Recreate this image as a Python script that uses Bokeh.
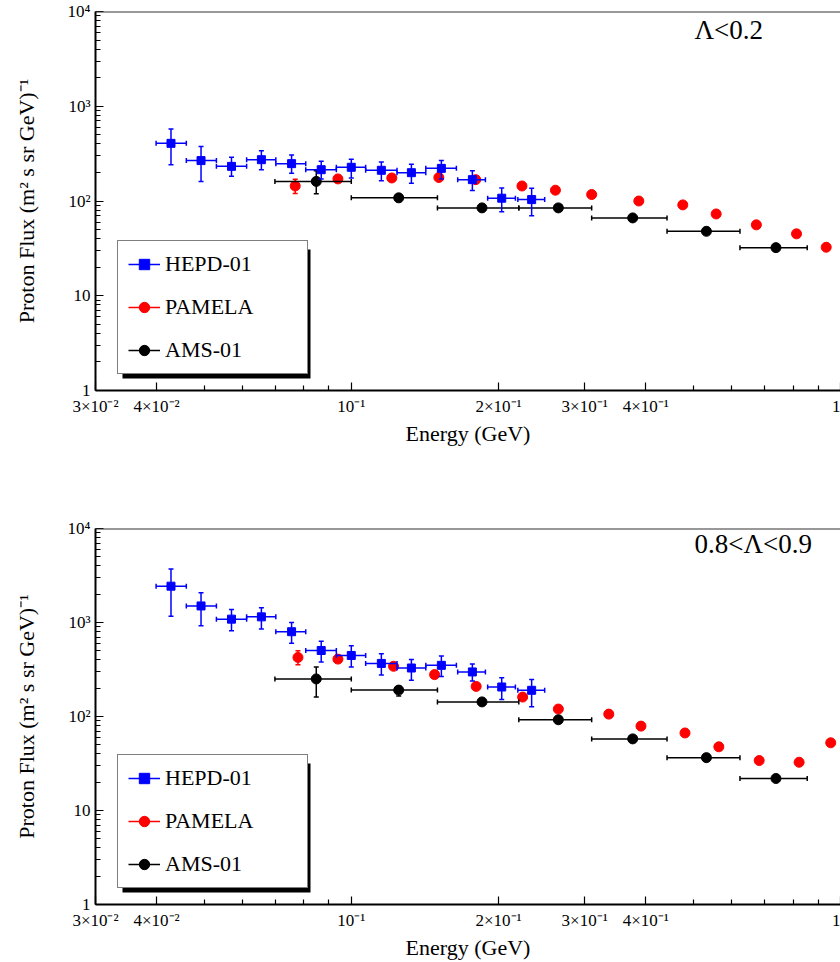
import math
from bokeh.plotting import figure
from bokeh.models import (FixedTicker, Legend, LegendItem, BoxAnnotation, Label,
                          Span, ColumnDataSource)
from bokeh.layouts import column
from bokeh.embed import file_html
from bokeh.resources import INLINE

FONT = "Liberation Serif"

# ---------------- axes ----------------
X_RANGE = (0.03, 1.0)
Y_RANGE = (1.0, 1.0e4)
X_TICKS = [0.03, 0.04, 0.1, 0.2, 0.3, 0.4, 1.0]
X_TICK_LABELS = ["3×10⁻²", "4×10⁻²", "10⁻¹", "2×10⁻¹", "3×10⁻¹", "4×10⁻¹", "1"]
X_MINOR = [0.05, 0.06, 0.07, 0.08, 0.09, 0.5, 0.6, 0.7, 0.8, 0.9]
Y_TICKS = [1, 10, 100, 1000, 10000]
Y_TICK_LABELS = ["1", "10", "10²", "10³", "10⁴"]
Y_MINOR = [m * 10 ** e for e in range(4) for m in range(2, 10)]

X_LABEL = "Energy (GeV)"
Y_LABEL = "Proton Flux (m² s sr GeV)⁻¹"
SERIES = ["HEPD-01", "PAMELA", "AMS-01"]
PANEL_TAGS = ["Λ<0.2", "0.8<Λ<0.9"]

# ---------------- HEPD-01 (energy bins shared) ----------------
hepd_e = [0.0428, 0.0493, 0.0569, 0.0655, 0.0755, 0.0868, 0.100, 0.1152, 0.1327,
          0.1528, 0.1768, 0.203, 0.2337]
hepd_e_lo = [0.0399, 0.046, 0.053, 0.0611, 0.0701, 0.0807, 0.0932, 0.107, 0.124,
             0.142, 0.165, 0.190, 0.219]
hepd_e_hi = [0.046, 0.053, 0.0611, 0.0701, 0.0807, 0.0932, 0.107, 0.124, 0.142,
             0.164, 0.188, 0.2165, 0.2485]
hepd_top_f = [406, 267, 232, 273, 248, 214, 227, 211, 199, 221, 168, 107, 103.5]
hepd_top_hi = [575, 375, 289, 340, 306, 262, 275, 258, 244, 267, 209, 137, 136]
hepd_top_lo = [242, 161, 182, 214, 196, 171, 175, 164, 154, 171, 129, 77, 70]
hepd_bot_f = [2434, 1500, 1086, 1148, 798, 504, 446, 367, 328, 350, 298, 206, 190]
hepd_bot_hi = [3700, 2070, 1372, 1438, 1000, 631, 565, 465, 405, 439, 361, 258, 248]
hepd_bot_lo = [1167, 923, 818, 853, 601, 379, 336, 277, 243, 266, 238, 152, 127]

# ---------------- PAMELA ----------------
pam_top_e = [0.0768, 0.0939, 0.121, 0.151, 0.1796, 0.2233, 0.2614, 0.310, 0.387,
             0.476, 0.557, 0.673, 0.813, 0.935]
pam_top_f = [144, 171, 175, 177, 168, 144, 130, 117, 100, 91, 73, 56, 45, 32.5]
pam_top_lo = [120, 165, 169, 171, 162, 139, 126, 113, 97, 88, 70.5, 54, 43.5, 31.4]
pam_top_hi = [170, 177, 181, 183, 174, 149, 134, 121, 103, 94, 75.5, 58, 46.5, 33.6]
pam_bot_e = [0.0778, 0.0939, 0.122, 0.148, 0.180, 0.224, 0.265, 0.336, 0.391,
             0.481, 0.564, 0.682, 0.823, 0.955]
pam_bot_f = [425, 408, 342, 279, 209, 161, 120, 106, 79, 66.8, 47.6, 34, 32.6, 52.5]
pam_bot_lo = [356, 394, 330, 269, 202, 155, 116, 102, 76, 64.5, 45.9, 32.8, 31.5, 50.6]
pam_bot_hi = [500, 422, 354, 289, 216, 167, 124, 110, 82, 69.1, 49.3, 35.2, 33.7, 54.4]

# ---------------- AMS-01 (energy bins shared) ----------------
ams_e = [0.0848, 0.125, 0.185, 0.265, 0.376, 0.532, 0.738]
ams_e_lo = [0.0698, 0.100, 0.150, 0.220, 0.310, 0.442, 0.623]
ams_e_hi = [0.100, 0.150, 0.220, 0.310, 0.442, 0.623, 0.855]
ams_top_f = [161, 108, 84.6, 84.6, 66.3, 47.9, 32.2]
ams_top_lo = [119, 98, 81, 81, 63.5, 45.8, 30.8]
ams_top_hi = [209, 116, 88, 88, 69, 50, 33.6]
ams_bot_f = [251, 191, 143, 92.3, 57.8, 36.5, 21.9]
ams_bot_lo = [161, 165, 137, 88.5, 55.4, 35, 21]
ams_bot_hi = [336, 210, 149, 96, 60.2, 38, 22.8]

COLORS = {"HEPD-01": "#0000ff", "PAMELA": "#ff0000", "AMS-01": "#000000"}


def add_series(p, color, marker, size, e, f, f_lo, f_hi, e_lo=None, e_hi=None):
    data = dict(e=e, f=f, f_lo=f_lo, f_hi=f_hi)
    if e_lo is not None:
        data.update(e_lo=e_lo, e_hi=e_hi)
    src = ColumnDataSource(data)
    rs = []
    if e_lo is not None:
        h = p.segment("e_lo", "f", "e_hi", "f", source=src, line_color=color, line_width=1.5)
        for col in ("e_lo", "e_hi"):
            p.scatter(col, "f", source=src, marker="dash", angle=math.pi / 2, size=5,
                      line_color=color, line_width=1.5)
        rs.append(h)
    v = p.segment("e", "f_lo", "e", "f_hi", source=src, line_color=color, line_width=1.5)
    for col in ("f_lo", "f_hi"):
        p.scatter("e", col, source=src, marker="dash", size=5, line_color=color, line_width=1.5)
    if e_lo is None:
        rs.append(v)
    m = p.scatter("e", "f", source=src, marker=marker, size=size,
                  fill_color=color, line_color=color)
    rs.append(m)
    return rs


def make_panel(tag, height, b_top, b_bottom, hepd, pam, ams):
    p = figure(width=840, height=height, x_axis_type="log", y_axis_type="log",
               x_range=X_RANGE, y_range=Y_RANGE, output_backend="svg",
               toolbar_location=None, min_border_left=95, min_border_right=0,
               min_border_top=b_top, min_border_bottom=b_bottom,
               background_fill_color="white", border_fill_color="white")
    p.grid.visible = False
    p.outline_line_color = None
    p.add_layout(Span(location=Y_RANGE[1], dimension="width", line_color="#333333",
                      line_width=2))

    xa = p.xaxis[0]
    xa.ticker = FixedTicker(ticks=X_TICKS, minor_ticks=X_MINOR)
    xa.major_label_overrides = dict(zip(X_TICKS, X_TICK_LABELS))
    ya = p.yaxis[0]
    ya.ticker = FixedTicker(ticks=Y_TICKS, minor_ticks=Y_MINOR)
    ya.major_label_overrides = dict(zip(Y_TICKS, Y_TICK_LABELS))
    for ax in (xa, ya):
        ax.axis_line_width = 2
        ax.axis_line_color = "black"
        ax.major_tick_in = 8
        ax.major_tick_out = 0
        ax.minor_tick_in = 5
        ax.minor_tick_out = 0
        ax.major_tick_line_width = 1.2
        ax.minor_tick_line_width = 1.2
        ax.major_label_text_font = FONT
        ax.major_label_text_font_size = "17px"
        ax.major_label_text_color = "black"
        ax.axis_label_text_font = FONT
        ax.axis_label_text_font_size = "22px"
        ax.axis_label_text_font_style = "normal"
        ax.axis_label_text_color = "black"
    xa.axis_label = X_LABEL
    xa.major_label_standoff = 6
    xa.axis_label_standoff = 2
    ya.axis_label = Y_LABEL
    ya.major_label_standoff = 5
    ya.axis_label_standoff = 26

    r_pam = add_series(p, COLORS["PAMELA"], "circle", 10, *pam)
    r_ams = add_series(p, COLORS["AMS-01"], "circle", 10, *ams)
    r_hepd = add_series(p, COLORS["HEPD-01"], "square", 8, *hepd)

    p.add_layout(BoxAnnotation(left=27, right=215, bottom=12, top=141,
                               left_units="screen", right_units="screen",
                               bottom_units="screen", top_units="screen",
                               fill_color="black", fill_alpha=1, line_color=None))
    legend = Legend(items=[LegendItem(label=SERIES[0], renderers=r_hepd),
                           LegendItem(label=SERIES[1], renderers=r_pam),
                           LegendItem(label=SERIES[2], renderers=r_ams)],
                    location=(22, 16), orientation="vertical",
                    glyph_width=32, glyph_height=26, label_height=26, label_width=132,
                    label_standoff=5, padding=10, spacing=17, margin=0,
                    border_line_color="black", border_line_width=1,
                    background_fill_color="white", background_fill_alpha=1,
                    label_text_font=FONT, label_text_font_size="22px",
                    label_text_color="black")
    p.add_layout(legend, "center")

    p.add_layout(Label(x=599, y=height - b_top - b_bottom - 18, x_units="screen",
                       y_units="screen", text=tag, text_font=FONT,
                       text_font_size="27px", text_color="black",
                       text_baseline="alphabetic"))
    return p


p1 = make_panel(PANEL_TAGS[0], 470, 11, 80,
                (hepd_e, hepd_top_f, hepd_top_lo, hepd_top_hi, hepd_e_lo, hepd_e_hi),
                (pam_top_e, pam_top_f, pam_top_lo, pam_top_hi),
                (ams_e, ams_top_f, ams_top_lo, ams_top_hi, ams_e_lo, ams_e_hi))
p2 = make_panel(PANEL_TAGS[1], 492, 58, 55,
                (hepd_e, hepd_bot_f, hepd_bot_lo, hepd_bot_hi, hepd_e_lo, hepd_e_hi),
                (pam_bot_e, pam_bot_f, pam_bot_lo, pam_bot_hi),
                (ams_e, ams_bot_f, ams_bot_lo, ams_bot_hi, ams_e_lo, ams_e_hi))

layout = column(p1, p2, spacing=0)
open("out.html", "w").write(file_html(layout, INLINE))
